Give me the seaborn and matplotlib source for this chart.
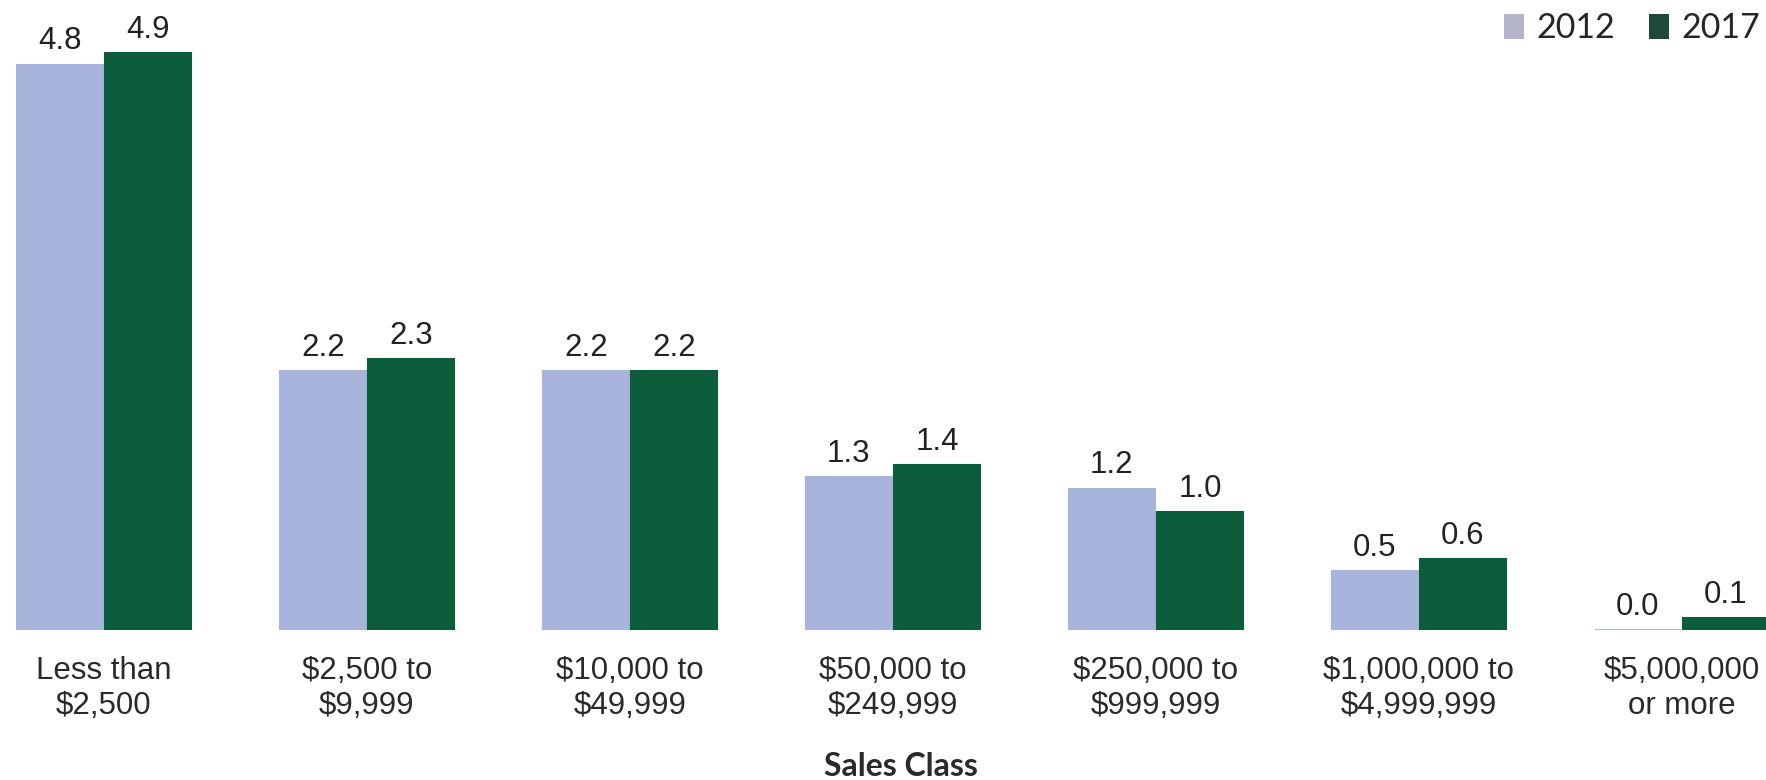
import matplotlib
matplotlib.use("Agg")
import matplotlib.pyplot as plt
from matplotlib.patches import Patch
import seaborn as sns
import pandas as pd

# Sales classes and farm counts (per cent share) for the two census years
categories = ["Less than\n$2,500", "$2,500 to\n$9,999", "$10,000 to\n$49,999",
              "$50,000 to\n$249,999", "$250,000 to\n$999,999",
              "$1,000,000 to\n$4,999,999", "$5,000,000\nor more"]
values_2012 = [4.8, 2.2, 2.2, 1.3, 1.2, 0.5, 0.0]
values_2017 = [4.9, 2.3, 2.2, 1.4, 1.0, 0.6, 0.1]
years = ["2012", "2017"]
colors = {"2012": "#A9B4DC", "2017": "#0B5D3B"}

df = pd.DataFrame({
    "Sales Class": categories * 2,
    "value": values_2012 + values_2017,
    "year": [years[0]] * len(categories) + [years[1]] * len(categories),
})

sns.set_theme(style="white")
plt.rcParams["font.family"] = ["Liberation Sans", "DejaVu Sans"]

fig = plt.figure(figsize=(17.66, 7.8), dpi=100)
ax = fig.add_axes([0, 150 / 780, 1, 630 / 780])

sns.barplot(data=df, x="Sales Class", y="value", hue="year", order=categories,
            hue_order=years, palette=colors, width=0.67, gap=0.03,
            saturation=1, ax=ax, legend=False)

for patch in ax.patches:
    patch.set_edgecolor(patch.get_facecolor())
    patch.set_linewidth(1.5)

for cont in ax.containers:
    ax.bar_label(cont, fmt="%.1f", padding=6, fontsize=22.5, color="#222222")

ax.set_xlim(-0.395, 6.32)
ax.set_ylim(0, 5.35)
ax.set_ylabel("")
ax.set_xlabel("")
ax.set_yticks([])
ax.tick_params(axis="x", length=0, pad=19, labelsize=22.5, labelcolor="#2a2a2a")
for s in ax.spines.values():
    s.set_visible(False)

fig.text(901 / 1766, 1 - 767 / 780, "Sales Class", ha="center", va="center",
         fontsize=23, fontweight="bold", family=["Lato", "DejaVu Sans"],
         color="#2a2a2a")

handles = [Patch(facecolor="#B4B5CA", edgecolor="none"),
           Patch(facecolor="#1E4A3A", edgecolor="none")]
fig.legend(handles, years, loc="center right", bbox_to_anchor=(0.9965, 0.964),
           ncol=2, frameon=False, handlelength=0.6, handleheight=0.75,
           handletextpad=0.35, columnspacing=1.0, borderpad=0, borderaxespad=0,
           prop={"family": ["Lato", "DejaVu Sans"], "size": 24.5})

fig.savefig("out.png", dpi=100, facecolor="white")
